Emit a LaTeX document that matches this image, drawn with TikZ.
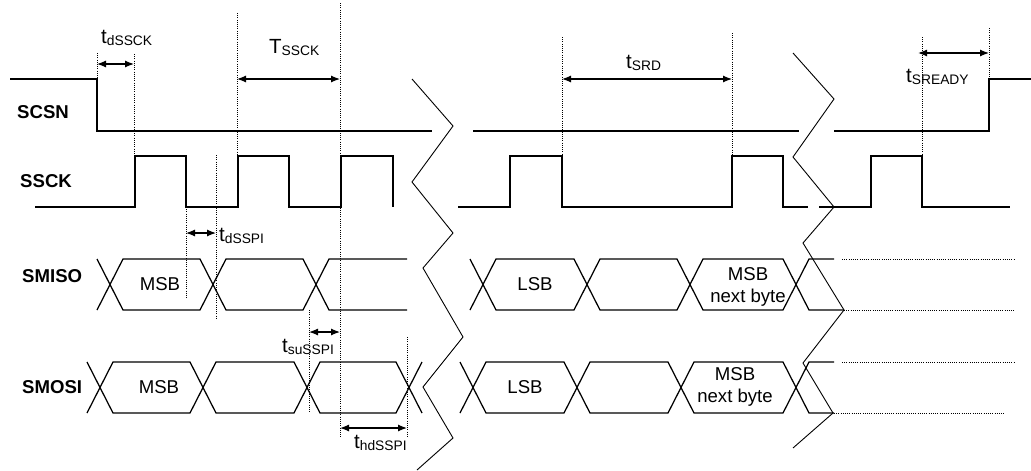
\documentclass[tikz,border=0pt]{standalone}
\usepackage{fontspec}
\setmainfont{Liberation Sans}
\usetikzlibrary{arrows.meta}
\newcommand{\tlab}[2]{\fontsize{20.5}{20}\selectfont #1\raisebox{-2pt}{\fontsize{13.8}{14}\selectfont #2}}
\begin{document}
\begin{tikzpicture}[x=1pt,y=-1pt,
  sig/.style={line width=1.25pt,line join=miter},
  zig/.style={line width=0.9pt},
  dots/.style={line width=0.9pt,dash pattern=on 1pt off 1.2pt},
  dim/.style={line width=1.2pt,{Latex[length=9pt,width=7pt]}-{Latex[length=9pt,width=7pt]}},
  lab/.style={font=\fontsize{18.6}{18}\selectfont\bfseries,anchor=west,inner sep=0pt},
  dat/.style={font=\fontsize{18.6}{22}\selectfont,inner sep=0pt,anchor=base},
  tl/.style={anchor=base west,inner sep=0pt}]
\useasboundingbox (0,0) rectangle (1031,471);

% signal names
\node[lab] (scsn) at (17,112) {SCSN};
\node[lab] (ssck) at (20,181) {SSCK};
\node[lab] (smiso) at (22,276) {SMISO};
\node[lab] (smosi) at (22,387) {SMOSI};

% SCSN
\draw[sig] (10,79) -- (97,79) -- (97,131) -- (432,131);
\draw[sig] (473,131) -- (799,131);
\draw[sig] (834,131) -- (989,131) -- (989,79) -- (1031,79);

% SSCK
\draw[sig] (35,207) -- (135,207) -- (135,156) -- (186,156) -- (186,207) -- (238,207) -- (238,156) -- (289,156) -- (289,207) -- (341,207) -- (341,156) -- (393,156) -- (393,207);
\draw[sig] (458,207) -- (510,207) -- (510,156) -- (562,156) -- (562,207) -- (732,207) -- (732,156) -- (783,156) -- (783,207) -- (808,207);
\draw[sig] (819,207) -- (871,207) -- (871,156) -- (922,156) -- (922,207) -- (1010,207);

% SMISO
\draw[sig] (97,310) -- (123,259) -- (200,259) -- (226,310) -- (303,310) -- (329,259) -- (407,259);
\draw[sig] (97,259) -- (123,310) -- (200,310) -- (226,259) -- (303,259) -- (329,310) -- (407,310);
\draw[sig] (470,310) -- (496,259) -- (574,259) -- (600,310) -- (677,310) -- (703,259) -- (783,259) -- (809,310) -- (844,310);
\draw[sig] (470,259) -- (496,310) -- (574,310) -- (600,259) -- (677,259) -- (703,310) -- (783,310) -- (809,259) -- (834,259);
\draw[dots] (842,259) -- (1015,259);
\draw[dots] (844,310) -- (1015,310);

% SMOSI
\draw[sig] (87,413) -- (113,362) -- (190,362) -- (216,413) -- (294,413) -- (320,362) -- (396,362) -- (422,413);
\draw[sig] (87,362) -- (113,413) -- (190,413) -- (216,362) -- (294,362) -- (320,413) -- (396,413) -- (422,362);
\draw[sig] (460,413) -- (486,362) -- (564,362) -- (590,413) -- (668,413) -- (694,362) -- (783,362) -- (809,413) -- (834,413);
\draw[sig] (460,362) -- (486,413) -- (564,413) -- (590,362) -- (668,362) -- (694,413) -- (783,413) -- (809,362) -- (834,362);
\draw[dots] (842,362) -- (1015,362);
\draw[dots] (834,413) -- (1005,413);

% break zigzags
\draw[zig] (412,79) -- (453,126) -- (412,182) -- (453,233) -- (423,268) -- (463,337) -- (423,387) -- (453,438) -- (417,470);
\draw[zig] (793,53) -- (834,99) -- (793,157) -- (834,207) -- (803,243) -- (844,310) -- (803,363) -- (833,413) -- (793,448);

% data labels
\node[dat] (m1) at (160,290) {MSB};
\node[dat] (m2) at (159,393) {MSB};
\node[dat] (l1) at (535,290) {LSB};
\node[dat] (l2) at (525,393) {LSB};
\node[dat] (n1a) at (748,280) {MSB};
\node[dat] (n1b) at (748,302) {next byte};
\node[dat] (n2a) at (735,380) {MSB};
\node[dat] (n2b) at (735,402) {next byte};

% dotted reference lines
\draw[dots] (97,53) -- (97,79);
\draw[dots] (134,54) -- (134,207);
\draw[dots] (186,207) -- (186,298);
\draw[dots] (216,155) -- (216,318);
\draw[dots] (237,13) -- (237,193);
\draw[dots] (340,3) -- (340,437);
\draw[dots] (309,310) -- (309,413);
\draw[dots] (407,337) -- (407,437);
\draw[dots] (562,37) -- (562,156);
\draw[dots] (732,33) -- (732,156);
\draw[dots] (922,37) -- (922,156);
\draw[dots] (989,28) -- (989,79);

% dimension arrows
\draw[dim] (97,64) -- (134,64);
\draw[dim] (237,79) -- (340,79);
\draw[dim] (562,79) -- (732,79);
\draw[dim] (918,53) -- (989,53);
\draw[dim] (186,233) -- (216,233);
\draw[dim] (309,332) -- (340,332);
\draw[dim] (340,428) -- (407,428);

% timing labels
\node[tl] (tdssck) at (101,43) {\tlab{t}{dSSCK}};
\node[tl] (tssck) at (269,53) {\tlab{T}{SSCK}};
\node[tl] (tsrd) at (626,68) {\tlab{t}{SRD}};
\node[tl] (tdsspi) at (219,241) {\tlab{t}{dSSPI}};
\node[tl] (tsusspi) at (282,352) {\tlab{t}{suSSPI}};
\node[tl] (thdsspi) at (354,448) {\tlab{t}{hdSSPI}};
\node[tl] (tsready) at (906,82) {\tlab{t}{SREADY}};
\end{tikzpicture}
\end{document}
